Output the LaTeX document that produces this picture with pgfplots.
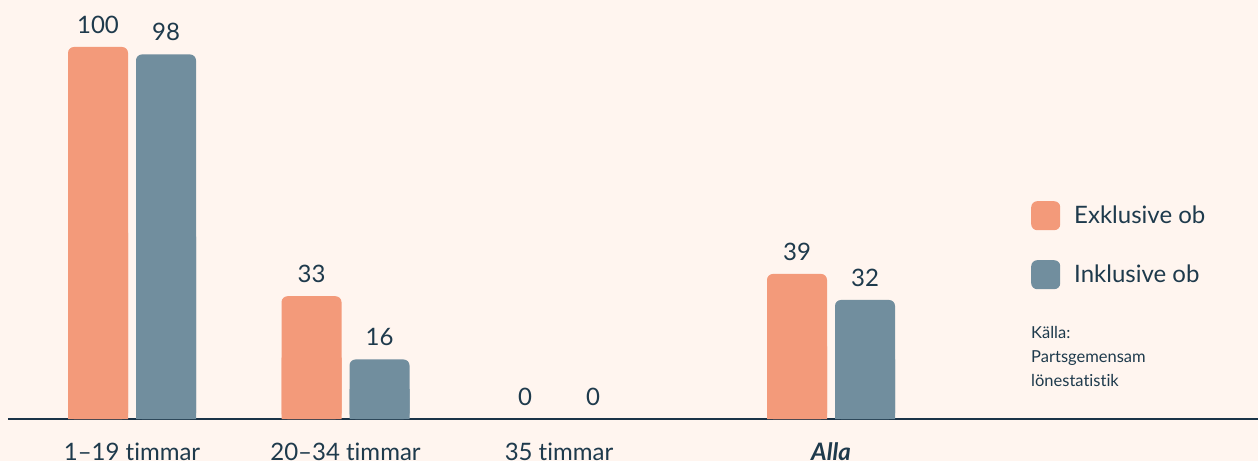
\documentclass[border=0pt]{standalone}
\usepackage{pgfplots}
\pgfplotsset{compat=1.18}
\usepackage{pgfplotstable}
\usepackage{fontspec}
\setmainfont{Lato}[Ligatures=NoCommon]
\definecolor{bg}{HTML}{FFF5EF}
\definecolor{exk}{HTML}{F39A7A}
\definecolor{ink}{HTML}{718E9E}
\definecolor{txt}{HTML}{1E3A4C}
\definecolor{axl}{HTML}{1A3347}
\pgfplotstableread{
x v
0 100
1 33
2 0
3.274 39
}\exkl
\pgfplotstableread{
x v
0 98
1 16
2 0
3.274 32
}\inkl
\begin{document}
\begin{tikzpicture}
\fill[bg] (0,0) rectangle (1258pt,461pt);
\useasboundingbox (0,0) rectangle (1258pt,461pt);
\begin{axis}[
  at={(8pt,42pt)}, anchor=south west,
  scale only axis, width=1250pt, height=419pt,
  xmin=-0.5808, xmax=5.274, ymin=0, ymax=112.63,
  clip=false,
  ybar, bar width=60pt,
  axis x line*=bottom, axis y line=none,
  x axis line style={-, draw=axl, line width=2.5pt},
  major tick length=0pt,
  xtick={0,1,2,3.274},
  xticklabels={1–19 timmar, 20–34 timmar, 35 timmar, \textbf{\textit{Alla}}},
  xticklabel style={anchor=base, yshift=-41.5pt, font=\fontsize{24}{28}\selectfont, text=txt},
  /pgf/number format/assume math mode=true,
  nodes near coords style={anchor=base, yshift=13.5pt, font=\fontsize{24}{28}\selectfont, text=txt},
  legend style={at={(0.8184,0.5203)}, anchor=north west, draw=none, fill=none,
    font=\fontsize{24}{28}\selectfont, text=txt, row sep=30pt, column sep=14pt,
    inner sep=0pt, nodes={inner sep=0pt}},
  legend cell align=left,
  legend image code/.code={\fill[#1] (0pt,-14.5pt) rectangle (29pt,14.5pt);},
]
% rounded bars (zero values skipped)
\addplot[fill=exk, draw=none, rounded corners=6pt, bar shift=-34pt, restrict y to domain=0.5:200] table[x=x,y=v]{\exkl};
\addlegendentry{Exklusive ob}
\addplot[fill=ink, draw=none, rounded corners=6pt, bar shift=34pt, restrict y to domain=0.5:200] table[x=x,y=v]{\inkl};
\addlegendentry{Inklusive ob}
% square lower halves to keep the bottom corners sharp
\addplot[fill=exk, draw=none, bar shift=-34pt, forget plot, restrict y to domain=0.2:200] table[x=x,y expr=\thisrow{v}/2]{\exkl};
\addplot[fill=ink, draw=none, bar shift=34pt, forget plot, restrict y to domain=0.2:200] table[x=x,y expr=\thisrow{v}/2]{\inkl};
% value labels
\addplot[fill=none, draw=none, bar shift=-34pt, forget plot, nodes near coords] table[x=x,y=v]{\exkl};
\addplot[fill=none, draw=none, bar shift=34pt, forget plot, nodes near coords] table[x=x,y=v]{\inkl};
\end{axis}
\node[anchor=north west, align=left, inner sep=0pt, font=\fontsize{16.5}{24}\selectfont, text=txt] at (1031pt,135pt) {Källa:\\Partsgemensam\\lönestatistik};
\end{tikzpicture}
\end{document}
